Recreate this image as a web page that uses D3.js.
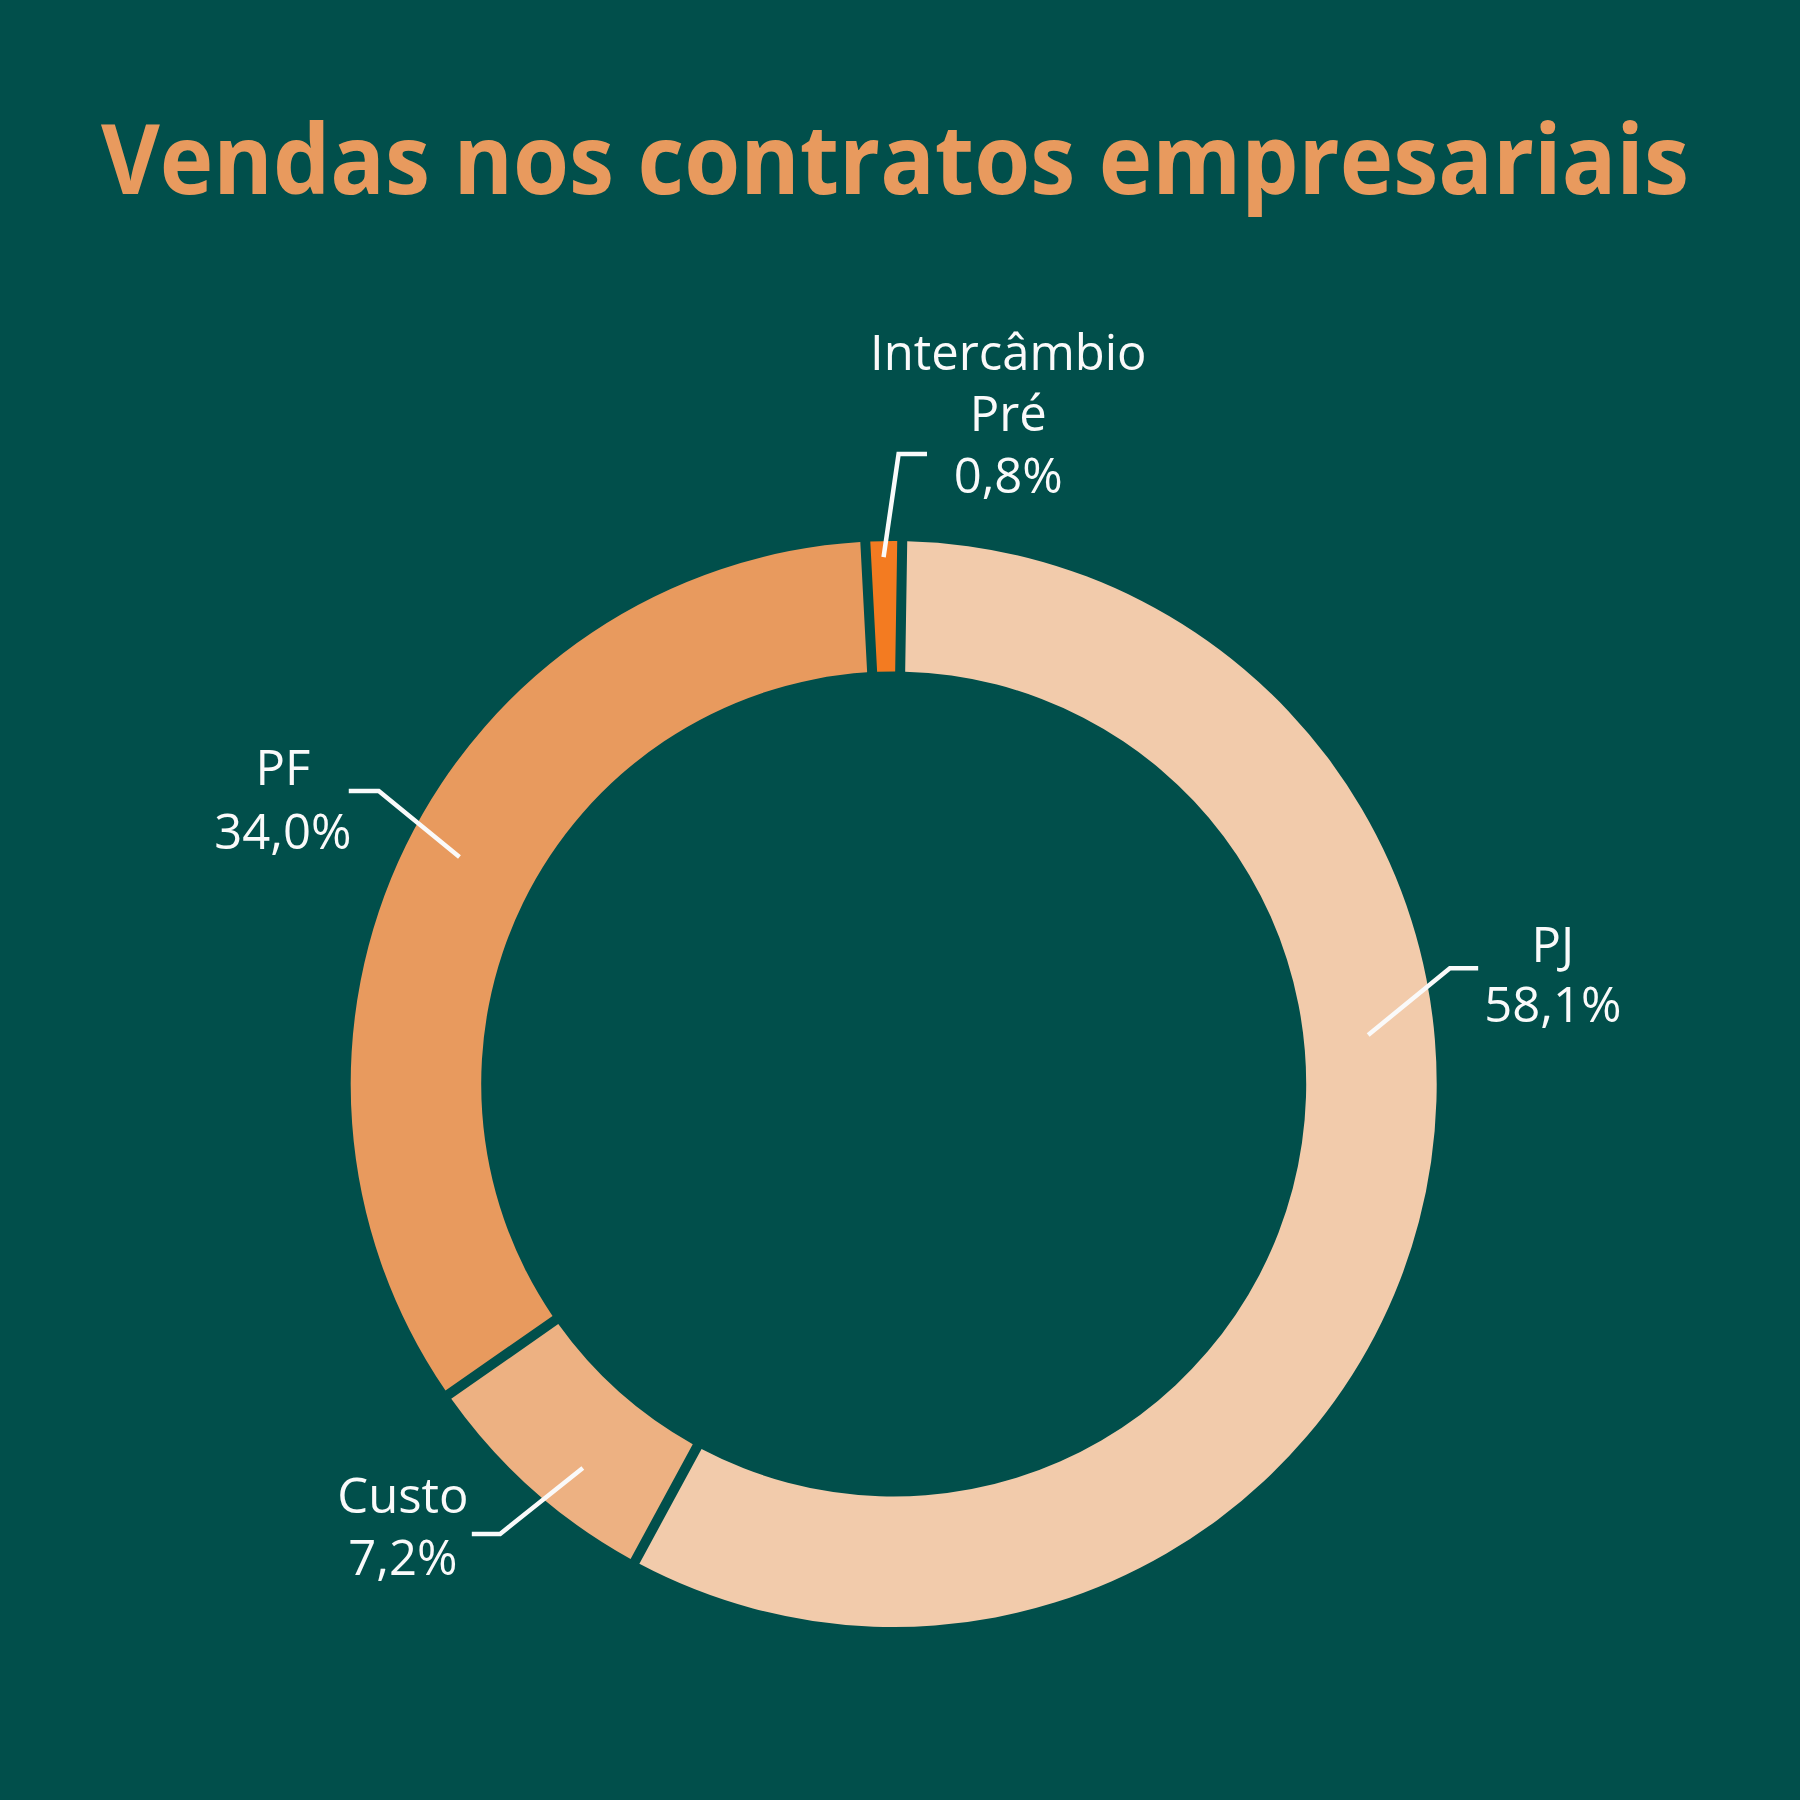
<!DOCTYPE html>
<html>
<head>
<meta charset="utf-8">
<script src="https://cdn.jsdelivr.net/npm/d3@7"></script>
<style>
  html, body { margin: 0; padding: 0; background: #014f4b; }
  svg { display: block; }
</style>
</head>
<body>
<svg width="1800" height="1800"></svg>
<script>
const svg = d3.select('svg');
const width = 1800;
const height = 1800;

// data
const categories = ['PJ', 'Custo', 'PF', 'Intercâmbio Pré'];
const shares = [58.1, 7.2, 34.0, 0.8];
const shareLabels = ['58,1%', '7,2%', '34,0%', '0,8%'];
const colors = ['#f2cbab', '#edb182', '#e89a5e', '#f37b21'];

const title = 'Vendas nos contratos empresariais';

// label layout: leader start (angle in deg, radius), elbow offset, tail, text placement
const labelLayout = {
  'PJ':              { angle: 84.1,  r: 477, elbow: [81.7, -66.7],  tail: 28.3,  textDx: 74.7,  lines: [-6.6, 53.4] },
  'Custo':           { angle: 219.0, r: 494, elbow: [-82.7, 66],    tail: -28.3, textDx: -68.9, lines: [-21, 40.7] },
  'PF':              { angle: 297.6, r: 490, elbow: [-80.7, -66],   tail: -30,   textDx: -65.8, lines: [-5.7, 57.6] },
  'Intercâmbio Pré': { angle: 358.9, r: 527, elbow: [15, -103],     tail: 28.4,  textDx: 81.3,  lines: [-84.3, -23.6, 39] }
};

const cx = 893.7, cy = 1084;
const outerR = 543, innerR = 412.5;
const gap = 10;

svg.append('rect')
  .attr('width', width)
  .attr('height', height)
  .attr('fill', '#014f4b');

svg.append('text')
  .attr('x', 895)
  .attr('y', 194)
  .attr('text-anchor', 'middle')
  .attr('font-family', '"Open Sans", sans-serif')
  .attr('font-weight', 700)
  .attr('font-size', 96)
  .attr('textLength', 1588)
  .attr('lengthAdjust', 'spacingAndGlyphs')
  .attr('fill', '#e89a5e')
  .text(title);

const data = categories.map((c, i) => ({ name: c, value: shares[i], label: shareLabels[i], color: colors[i] }));

const offset = 0.9 * Math.PI / 180;
const pie = d3.pie()
  .sort(null)
  .value(d => d.value)
  .startAngle(offset)
  .endAngle(2 * Math.PI + offset)
  .padAngle(gap / outerR);

const arc = d3.arc()
  .innerRadius(innerR)
  .outerRadius(outerR)
  .padRadius(outerR);

const g = svg.append('g')
  .attr('transform', `translate(${cx},${cy})`);

g.selectAll('path.slice')
  .data(pie(data))
  .enter().append('path')
    .attr('class', 'slice')
    .attr('d', arc)
    .attr('fill', d => d.data.color);

// leader lines + labels
const labels = g.selectAll('g.label')
  .data(data)
  .enter().append('g')
    .attr('class', 'label');

labels.each(function(d) {
  const L = labelLayout[d.name];
  const a = L.angle * Math.PI / 180;
  const x0 = L.r * Math.sin(a);
  const y0 = -L.r * Math.cos(a);
  const x1 = x0 + L.elbow[0];
  const y1 = y0 + L.elbow[1];
  const x2 = x1 + L.tail;
  const sel = d3.select(this);

  sel.append('path')
    .attr('d', d3.line()([[x0, y0], [x1, y1], [x2, y1]]))
    .attr('fill', 'none')
    .attr('stroke', '#fafafa')
    .attr('stroke-width', 4.5);

  const textLines = d.name === 'Intercâmbio Pré'
    ? ['Intercâmbio', 'Pré', d.label]
    : [d.name, d.label];

  sel.selectAll('text')
    .data(textLines)
    .enter().append('text')
      .attr('x', x2 + L.textDx)
      .attr('y', (t, i) => y1 + L.lines[i])
      .attr('text-anchor', 'middle')
      .attr('font-family', '"Open Sans", sans-serif')
      .attr('font-size', 49)
      .attr('fill', '#fafafa')
      .text(t => t);
});
</script>
</body>
</html>
